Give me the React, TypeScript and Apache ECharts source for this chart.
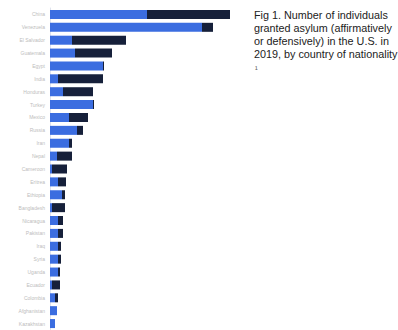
import React, { useEffect, useRef } from "react";
import * as echarts from "echarts";

const countries = [
  "China", "Venezuela", "El Salvador", "Guatemala", "Egypt", "India", "Honduras",
  "Turkey", "Mexico", "Russia", "Iran", "Nepal", "Cameroon", "Eritrea",
  "Ethiopia", "Bangladesh", "Nicaragua", "Pakistan", "Iraq", "Syria",
  "Uganda", "Ecuador", "Colombia", "Afghanistan", "Kazakhstan",
];

const affirmative = [
  3880, 6080, 880, 1000, 2120, 320, 520, 1720, 760, 1080, 760, 280, 80,
  320, 480, 80, 320, 320, 320, 320, 320, 80, 200, 280, 200,
];

const defensive = [
  3320, 440, 2160, 1480, 40, 1800, 1200, 40, 760, 240, 120, 600, 600,
  320, 120, 520, 200, 200, 120, 120, 80, 320, 120, 0, 0,
];

const titleLines = [
  "Fig 1. Number of individuals",
  "granted asylum (affirmatively",
  "or defensively) in the U.S. in",
  "2019, by country of nationality",
];

export default function App() {
  const ref = useRef<HTMLDivElement>(null);
  useEffect(() => {
    if (!ref.current) return;
    const chart = echarts.init(ref.current, undefined, { renderer: "svg" });
    chart.setOption({
      animation: false,
      backgroundColor: "#ffffff",
      grid: { left: 50, top: 8, width: 188, height: 322, containLabel: false },
      xAxis: {
        type: "value",
        min: 0,
        max: 7520,
        show: false,
      },
      yAxis: {
        type: "category",
        data: countries,
        inverse: true,
        axisTick: { show: false },
        axisLine: { show: true, lineStyle: { color: "#dfe3ee", width: 1 } },
        axisLabel: { fontSize: 5, color: "#bdbdbd", margin: 5, fontFamily: "Liberation Sans" },
      },
      series: [
        {
          type: "bar",
          stack: "total",
          data: affirmative,
          barCategoryGap: "30%",
          itemStyle: { color: "#3b6de0" },
        },
        {
          type: "bar",
          stack: "total",
          data: defensive,
          itemStyle: { color: "#16203a" },
        },
      ],
      graphic: [
        ...titleLines.map((t, i) => ({
          type: "text",
          left: 254,
          top: 9 + i * 13.3,
          style: {
            text: t,
            fontSize: 10.8,
            fontFamily: "Liberation Sans",
            fill: "#222222",
          },
        })),
        {
          type: "text",
          left: 255,
          top: 65,
          style: { text: "¹", fontSize: 8, fontFamily: "Liberation Sans", fill: "#444444" },
        },
      ],
    });
    return () => chart.dispose();
  }, []);
  return (
    <div
      ref={ref}
      style={{ position: "fixed", left: 0, top: 0, width: 398, height: 330 }}
    />
  );
}
